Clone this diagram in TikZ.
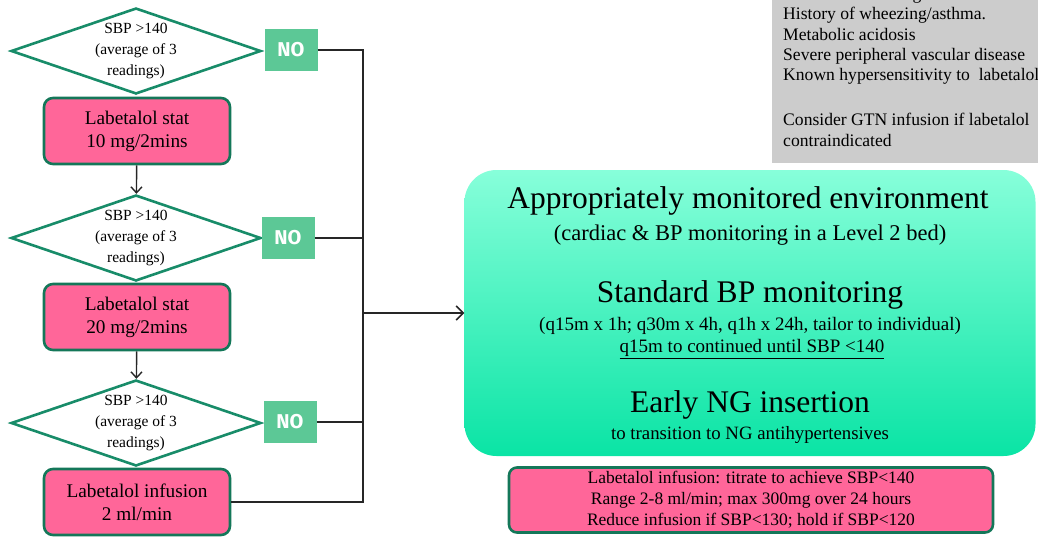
\documentclass[tikz,border=0pt]{standalone}
\usepackage{fontspec}
\setmainfont{Liberation Serif}
\newfontfamily\nofont{Fira Sans}
\usetikzlibrary{shapes.geometric}
\usetikzlibrary{arrows.meta}

\definecolor{drugpink}{RGB}{255,102,153}
\definecolor{edgegreen}{RGB}{24,140,105}
\definecolor{nogreen}{RGB}{92,200,150}
\definecolor{notegray}{RGB}{204,204,204}
\definecolor{envtop}{RGB}{135,255,218}
\definecolor{envbot}{RGB}{10,228,165}

\begin{document}
\begin{tikzpicture}[x=1pt, y=-1pt,
    check/.style={diamond, draw=edgegreen, line width=2.6pt, fill=white, aspect=2.86,
        minimum width=250pt, minimum height=86pt, inner sep=0pt, align=center,
        font=\fontsize{15.5}{21}\selectfont},
    drug/.style={rectangle, rounded corners=9pt, draw=edgegreen!85!black, line width=2.6pt,
        fill=drugpink, minimum width=186pt, minimum height=66pt, align=center,
        font=\fontsize{19.3}{23}\selectfont},
    nobox/.style={fill=nogreen, text=white, minimum width=53pt, minimum height=42pt,
        font=\nofont\bfseries\fontsize{20}{22}\selectfont},
    link/.style={line width=1.4pt, black!85},
    flow/.style={link, -{Straight Barb[length=6pt, width=11pt, line width=1.4pt]}}]
\useasboundingbox (0,0) rectangle (1038,536);

% --- Left: decision ladder ---
\node[check] (c1) at (136,51) {SBP >140\\(average of 3\\readings)};
\node[nobox] (n1) at (291,50) {NO};
\node[drug] (d1) at (137,131) {Labetalol stat\\10 mg/2mins};

\node[check] (c2) at (136,238) {SBP >140\\(average of 3\\readings)};
\node[nobox] (n2) at (288,238) {NO};
\node[drug] (d2) at (137,317) {Labetalol stat\\20 mg/2mins};

\node[check] (c3) at (136,423) {SBP >140\\(average of 3\\readings)};
\node[nobox] (n3) at (290,422) {NO};
\node[drug] (d3) at (137,502) {Labetalol infusion\\2 ml/min};

\draw[flow] (d1) -- (c2);
\draw[flow] (d2) -- (c3);

% --- Right: monitored environment ---
\node[rectangle, rounded corners=32pt, top color=envtop, bottom color=envbot,
    minimum width=571pt, minimum height=286pt] (env) at (750,313) {};

\node[font=\fontsize{31.5}{36}\selectfont] (envhead) at (748,201) {Appropriately monitored environment};
\node[font=\fontsize{22.5}{26}\selectfont] (envsub) at (750,235) {(cardiac \& BP monitoring in a Level 2 bed)};
\node[font=\fontsize{31.5}{36}\selectfont] (bphead) at (750,295) {Standard BP monitoring};
\node[font=\fontsize{19}{22}\selectfont] (bpsub) at (750,326) {(q15m x 1h; q30m x 4h, q1h x 24h, tailor to individual)};
\node[font=\fontsize{19}{22}\selectfont] (bpnote) at (752,349) {\underline{q15m to continued until SBP <140}};
\node[font=\fontsize{31.5}{36}\selectfont] (nghead) at (750,405) {Early NG insertion};
\node[font=\fontsize{18.8}{22}\selectfont] (ngsub) at (750,435) {to transition to NG antihypertensives};

\node[drug, rounded corners=8pt, minimum width=484pt, minimum height=65pt,
    font=\fontsize{17.5}{21}\selectfont] (titr) at (751,500)
    {Labetalol infusion: titrate to achieve SBP<140\\Range 2-8 ml/min; max 300mg over 24 hours\\Reduce infusion if SBP<130; hold if SBP<120};

% --- Top right: contraindications note ---
\node[fill=notegray, minimum width=266pt, minimum height=193pt, anchor=south west] (note) at (772,163) {};
\node[anchor=north west, align=left, inner sep=0pt, font=\fontsize{17.6}{20.3}\selectfont] (notetext) at (783,-13)
    {Second or third degree heart block.\\History of wheezing/asthma.\\Metabolic acidosis\\Severe peripheral vascular disease\\Known hypersensitivity to\ \ labetalol\\[25pt]Consider GTN infusion if labetalol\\contraindicated};

% --- Connectors ---
\coordinate (bus) at (363,313);
\draw[link] (n1) -| (d3.east -| bus) -- (d3);
\draw[link] (n2) -- (n2 -| bus);
\draw[link] (n3) -- (n3 -| bus);
\draw[link, -{Straight Barb[length=7pt, width=14pt, line width=1.6pt]}] (bus) -- (env);

\end{tikzpicture}
\end{document}
